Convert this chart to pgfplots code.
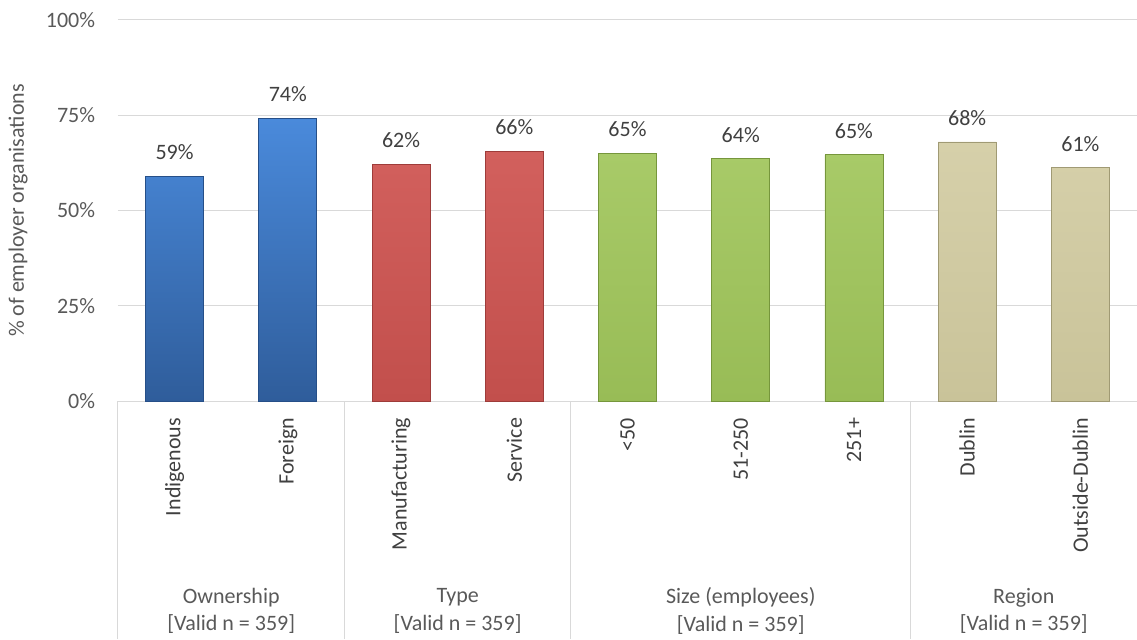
\documentclass[border=0pt]{standalone}
\usepackage{pgfplots}
\pgfplotsset{compat=1.18}
\usepackage{fontspec}
\setmainfont{Carlito}
\definecolor{gridc}{HTML}{D9D9D9}
\definecolor{tickc}{HTML}{595959}
\definecolor{labc}{HTML}{404040}
\definecolor{blueT}{HTML}{4A8ADB}
\definecolor{blueB}{HTML}{2F5D9B}
\definecolor{blueE}{HTML}{264F88}
\definecolor{redT}{HTML}{D2605D}
\definecolor{redB}{HTML}{C24F4C}
\definecolor{redE}{HTML}{9E3C3A}
\definecolor{grnT}{HTML}{A8CA68}
\definecolor{grnB}{HTML}{98BC56}
\definecolor{grnE}{HTML}{76963C}
\definecolor{tanT}{HTML}{D6D0AA}
\definecolor{tanB}{HTML}{C9C399}
\definecolor{tanE}{HTML}{A09A74}
\begin{document}
\begin{tikzpicture}[font=\fontsize{16.5}{20.5}\selectfont]
\useasboundingbox (-88.5pt,-178.5pt) rectangle (764.25pt,300.75pt);
\begin{axis}[
  scale only axis, width=764.25pt, height=285.75pt,
  at={(0,0)}, anchor=south west,
  xmin=-0.5, xmax=8.5, ymin=0, ymax=100,
  ybar, bar width=43.5pt, bar shift=0pt,
  axis line style={draw=none},
  xtick={0,...,8},
  xticklabels={Indigenous,Foreign,Manufacturing,Service,{<50},51-250,251+,Dublin,Outside-Dublin},
  xticklabel style={yshift=-12.5pt, rotate=90, anchor=east, inner sep=0pt, text=labc},
  ytick={0,25,50,75,100},
  yticklabel={\pgfmathprintnumber{\tick}\%},
  yticklabel style={text=tickc, anchor=east, inner sep=0pt, xshift=-17pt},
  /pgf/number format/assume math mode=true,
  major tick length=0pt,
  ymajorgrids, grid style={draw=gridc, line width=0.75pt},
  ylabel={\% of employer organisations},
  ylabel style={at={(axis description cs:-0.0981,0.5)}, anchor=center, text=tickc},
  clip=false,
  nodes near coords={\pgfmathprintnumber[fixed,precision=0]{\pgfplotspointmeta}\%},
  nodes near coords style={anchor=south, inner sep=0pt, yshift=12pt, text=labc},
  point meta=y,
]
\addplot[draw=blueE, line width=0.6pt, top color=blueT, bottom color=blueB] coordinates {(0,59.0) (1,74.2)};
\addplot[draw=redE, line width=0.6pt, top color=redT, bottom color=redB] coordinates {(2,62.2) (3,65.6)};
\addplot[draw=grnE, line width=0.6pt, top color=grnT, bottom color=grnB] coordinates {(4,65.0) (5,63.6) (6,64.6)};
\addplot[draw=tanE, line width=0.6pt, top color=tanT, bottom color=tanB] coordinates {(7,68.0) (8,61.2)};
\draw[gridc, line width=0.75pt] (axis cs:-0.5,0) -- ([yshift=-178.5pt]axis cs:-0.5,0);
\draw[gridc, line width=0.75pt] (axis cs:1.5,0) -- ([yshift=-178.5pt]axis cs:1.5,0);
\draw[gridc, line width=0.75pt] (axis cs:3.5,0) -- ([yshift=-178.5pt]axis cs:3.5,0);
\draw[gridc, line width=0.75pt] (axis cs:6.5,0) -- ([yshift=-178.5pt]axis cs:6.5,0);
\node[align=center, text=tickc, anchor=center] at ([yshift=-157.5pt]axis cs:0.5,0) {Ownership\\{}[Valid n = 359]};
\node[align=center, text=tickc, anchor=center] at ([yshift=-157.5pt]axis cs:2.5,0) {Type\\{}[Valid n = 359]};
\node[align=center, text=tickc, anchor=center] at ([yshift=-157.5pt]axis cs:5,0) {Size (employees)\\{}[Valid n = 359]};
\node[align=center, text=tickc, anchor=center] at ([yshift=-157.5pt]axis cs:7.5,0) {Region\\{}[Valid n = 359]};
\end{axis}
\end{tikzpicture}
\end{document}
